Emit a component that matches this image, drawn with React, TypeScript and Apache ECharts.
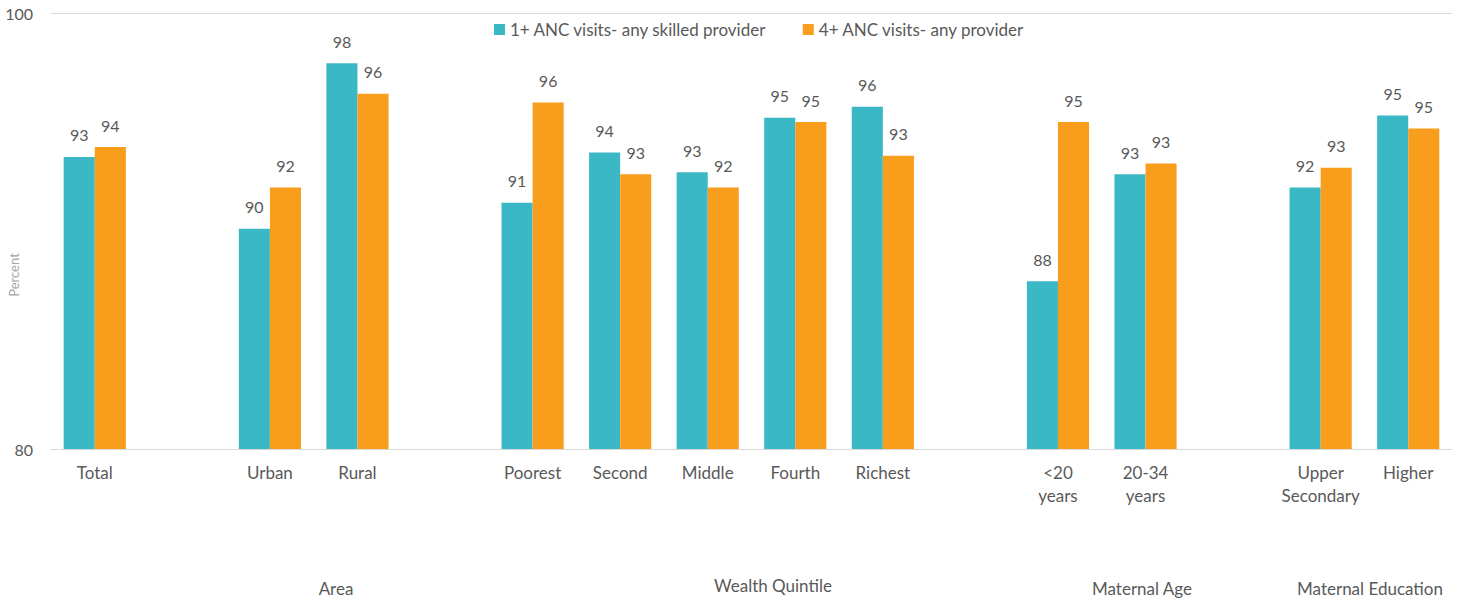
import React, { useEffect, useRef } from "react";
import * as echarts from "echarts";

const categories = [
  "Total", "", "Urban", "Rural", "", "Poorest", "Second", "Middle", "Fourth", "Richest", "",
  "<20\nyears", "20-34\nyears", "", "Upper\nSecondary", "Higher",
];
const seriesNames = ["1+ ANC visits- any skilled provider", "4+ ANC visits- any provider"];
const skilled1 = [93.4, null, 90.1, 97.7, null, 91.3, 93.6, 92.7, 95.2, 95.7, null, 87.7, 92.6, null, 92.0, 95.3];
const any4 = [93.85, null, 92.0, 96.3, null, 95.9, 92.6, 92.0, 95.0, 93.45, null, 95.0, 93.1, null, 92.9, 94.7];
const groupLabels = ["Area", "Wealth Quintile", "Maternal Age", "Maternal Education"];
const groupLabelX = [336, 773, 1142, 1370];
const groupLabelY = [588, 585, 588, 588];
const yAxisTitle = "Percent";
const yTicks = [80, 100];

const TEAL = "#3BB8C5";
const ORANGE = "#F99D1C";
const TXT = "#595959";
const FONT = "Lato, 'Open Sans', sans-serif";

export default function App() {
  const ref = useRef<HTMLDivElement>(null);
  useEffect(() => {
    if (!ref.current) return;
    const chart = echarts.init(ref.current, undefined, { renderer: "svg" });
    const label = {
      show: true,
      position: "top",
      distance: 14,
      color: TXT,
      fontSize: 16,
      fontFamily: FONT,
      formatter: (p: any) => (p.value == null ? "" : String(Math.round(p.value))),
    };
    chart.setOption({
      animation: false,
      textStyle: { fontFamily: FONT },
      grid: { left: 51, right: 12, top: 13, bottom: 152, containLabel: false, outerBoundsMode: "none" },
      legend: {
        top: 21,
        left: 494,
        padding: 0,
        itemWidth: 11,
        itemHeight: 11,
        itemGap: 36,
        icon: "rect",
        textStyle: { color: TXT, fontSize: 17, fontFamily: FONT },
        data: seriesNames,
      },
      xAxis: {
        type: "category",
        data: categories,
        axisLine: { show: true, lineStyle: { color: "#D9D9D9", width: 1 } },
        axisTick: { show: false },
        axisLabel: { color: TXT, fontSize: 17, fontFamily: FONT, interval: 0, margin: 12, lineHeight: 23 },
      },
      yAxis: {
        type: "value",
        min: yTicks[0],
        max: yTicks[1],
        interval: 20,
        axisLine: { show: false },
        axisTick: { show: false },
        axisLabel: { color: TXT, fontSize: 16, fontFamily: FONT, margin: 18 },
        splitLine: { show: true, lineStyle: { color: "#D9D9D9", width: 1 } },
      },
      series: [
        {
          name: seriesNames[0],
          type: "bar",
          data: skilled1,
          itemStyle: { color: TEAL },
          barGap: "0%",
          barCategoryGap: "29%",
          label,
        },
        {
          name: seriesNames[1],
          type: "bar",
          data: any4,
          itemStyle: { color: ORANGE },
          barGap: "0%",
          barCategoryGap: "29%",
          label,
        },
      ],
      graphic: [
        ...groupLabels.map((t, i) => ({
          type: "text",
          x: groupLabelX[i],
          y: groupLabelY[i],
          style: {
            text: t,
            fill: TXT,
            fontSize: 17,
            fontFamily: FONT,
            textAlign: "center",
            textVerticalAlign: "middle",
          },
        })),
        {
          type: "text",
          x: 14,
          y: 275,
          rotation: Math.PI / 2,
          style: {
            text: yAxisTitle,
            fill: "#A6A6A6",
            fontSize: 13,
            fontFamily: FONT,
            textAlign: "center",
            textVerticalAlign: "middle",
          },
        },
      ],
    });
    return () => chart.dispose();
  }, []);
  return <div ref={ref} style={{ width: 1464, height: 601, position: "absolute", left: 0, top: 0 }} />;
}
